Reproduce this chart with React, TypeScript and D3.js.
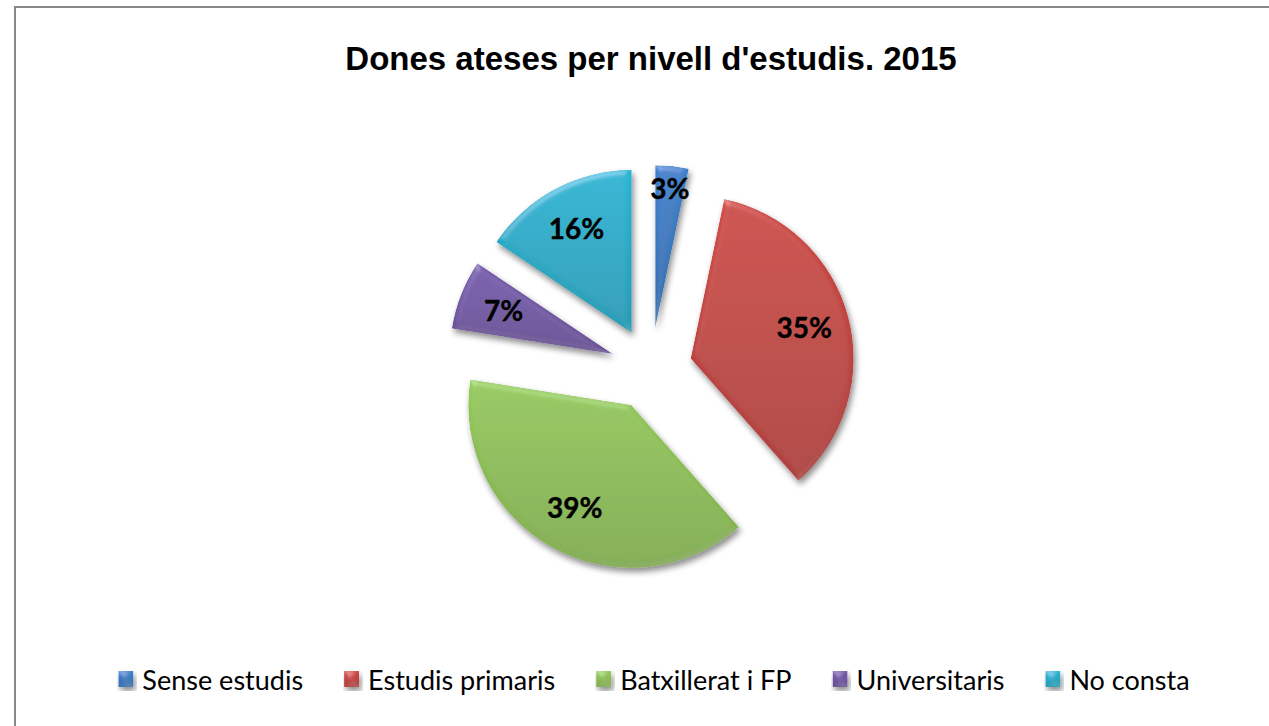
import React from 'react';
import * as d3 from 'd3';

// chart data (shares in %; labels are rounded)
const categories = ['Sense estudis', 'Estudis primaris', 'Batxillerat i FP', 'Universitaris', 'No consta'];
const values = [3.3, 35.2, 39.0, 6.9, 15.6];
const colors = ['#3777C0', '#C2433F', '#8CBF54', '#6F53A3', '#22ABC9'];
const title = "Dones ateses per nivell d'estudis. 2015";

const W = 1269;
const H = 726;
const cx = 651;
const cy = 369;
const radius = 163;
const explode = 41;

const legendFont = '27px Lato';

function textWidth(txt: string, font: string) {
    const c = document.createElement('canvas').getContext('2d');
    if (!c) return txt.length * 14;
    c.font = font;
    return c.measureText(txt).width;
}

export default function App() {
    const pie = d3.pie<number>().sort(null).value((d) => d);
    const arcs = pie(values);
    const arc = d3.arc<d3.PieArcDatum<number>>().innerRadius(0).outerRadius(radius);
    const sum = d3.sum(values);

    // legend layout, centred under the chart
    const markerSize = 15;
    const markerGap = 9;
    const itemGap = 41;
    const widths = categories.map((c) => textWidth(c, legendFont));
    const itemW = widths.map((w) => markerSize + markerGap + w);
    const total = d3.sum(itemW) + itemGap * (categories.length - 1);
    let lx = cx + 3 - total / 2;
    const legendX = itemW.map((w) => {
        const x = lx;
        lx += w + itemGap;
        return x;
    });

    return (
        <svg width={W} height={H} style={{ position: 'absolute', left: 0, top: 0, background: '#fff' }}>
            <defs>
                {colors.map((c, i) => (
                    <linearGradient key={i} id={'grad' + i} x1="0" y1="0" x2="0" y2="1">
                        <stop offset="0%" stopColor={d3.color(c)!.brighter(0.15).formatHex()} />
                        <stop offset="100%" stopColor={d3.color(c)!.darker(0.3).formatHex()} />
                    </linearGradient>
                ))}
                <filter id="bevel" x="-20%" y="-20%" width="140%" height="140%">
                    <feGaussianBlur in="SourceAlpha" stdDeviation="3" result="blur" />
                    {/* highlight on upper-left edges */}
                    <feSpecularLighting in="blur" surfaceScale="3" specularConstant="0.6" specularExponent="20" lightingColor="#ffffff" result="spec">
                        <feDistantLight azimuth={250} elevation={35} />
                    </feSpecularLighting>
                    <feComposite in="spec" in2="SourceAlpha" operator="in" result="specIn" />
                    {/* shade on lower-right edges */}
                    <feSpecularLighting in="blur" surfaceScale="3" specularConstant="0.7" specularExponent="12" lightingColor="#ffffff" result="dark">
                        <feDistantLight azimuth={70} elevation={35} />
                    </feSpecularLighting>
                    <feComposite in="dark" in2="SourceAlpha" operator="in" result="darkIn" />
                    <feComposite in="SourceGraphic" in2="specIn" operator="arithmetic" k1="0" k2="1" k3="0.3" k4="0" result="lit" />
                    <feComposite in="lit" in2="darkIn" operator="arithmetic" k1="-0.45" k2="1" k3="0" k4="0" result="lit2" />
                    <feComposite in="lit2" in2="SourceAlpha" operator="in" result="lit3" />
                    <feGaussianBlur in="SourceAlpha" stdDeviation="3" result="sb" />
                    <feOffset in="sb" dx="2" dy="4" result="so" />
                    <feComponentTransfer in="so" result="sh">
                        <feFuncA type="linear" slope="0.45" />
                    </feComponentTransfer>
                    <feMerge>
                        <feMergeNode in="sh" />
                        <feMergeNode in="lit3" />
                    </feMerge>
                </filter>
            </defs>

            <rect x={15} y={7} width={W + 40} height={H + 40} fill="#fff" stroke="#878787" strokeWidth={2} />

            <text x={cx} y={70} textAnchor="middle" fontFamily="'Liberation Sans', Arial, sans-serif" fontWeight="bold" fontSize={33} fill="#000">
                {title}
            </text>

            {arcs.map((a, i) => {
                const mid = (a.startAngle + a.endAngle) / 2;
                const dx = explode * Math.sin(mid);
                const dy = -explode * Math.cos(mid);
                return (
                    <g key={i} transform={`translate(${cx + dx},${cy + dy})`}>
                        <path d={arc(a) || ''} fill={`url(#grad${i})`} filter="url(#bevel)" />
                    </g>
                );
            })}

            {arcs.map((a, i) => {
                const mid = (a.startAngle + a.endAngle) / 2;
                const share = a.value / sum;
                const lr = radius * (share < 0.05 ? 0.86 : 0.72) + explode;
                const x = cx + lr * Math.sin(mid);
                const y = cy - lr * Math.cos(mid);
                return (
                    <text key={i} x={x} y={y} dy="0.35em" textAnchor="middle" fontFamily="Lato, sans-serif" fontWeight="bold" fontSize={28} fill="#000" stroke="#000" strokeWidth={0.4}>
                        {Math.round(share * 100) + '%'}
                    </text>
                );
            })}

            {categories.map((c, i) => (
                <g key={c} transform={`translate(${legendX[i]},671)`}>
                    <rect width={markerSize} height={markerSize + 1} fill={`url(#grad${i})`} filter="url(#bevel)" />
                    <text x={markerSize + markerGap} y={19} fontFamily="Lato, sans-serif" fontSize={27} fill="#000">
                        {c}
                    </text>
                </g>
            ))}
        </svg>
    );
}
